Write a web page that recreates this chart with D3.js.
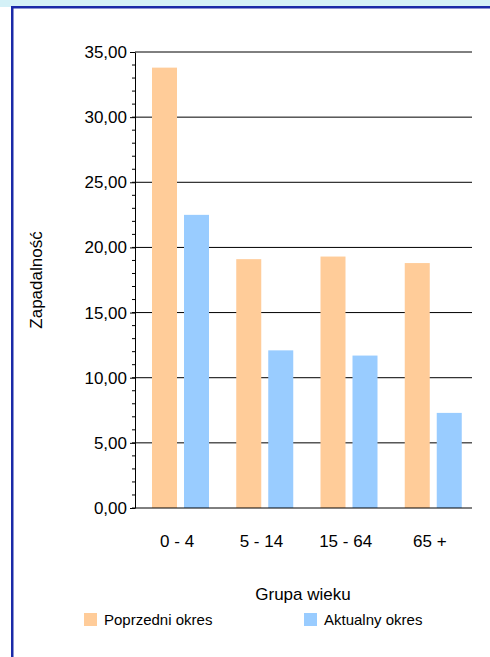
<!DOCTYPE html>
<html><head><meta charset="utf-8">
<script src="https://cdn.jsdelivr.net/npm/d3@7"></script>
<style>body{margin:0;background:#fff}text{font-family:"Liberation Sans",Arial,sans-serif}</style>
</head><body>
<svg width="490" height="657"></svg>
<script>
const categories = ["0 - 4", "5 - 14", "15 - 64", "65 +"];
const seriesNames = ["Poprzedni okres", "Aktualny okres"];
const previous = [33.8, 19.1, 19.3, 18.8];
const current = [22.5, 12.1, 11.7, 7.3];
const yTicks = [0, 5, 10, 15, 20, 25, 30, 35];
const colors = ["#FFCC99", "#99CCFF"];

var svg = d3.select("svg");
svg.append("rect").attr("x", 0).attr("y", 0).attr("width", 490).attr("height", 7).attr("fill", "#d4f1f7");
svg.append("rect").attr("x", 11).attr("y", 6).attr("width", 479).attr("height", 2.5).attr("fill", "#1a2aa8");
svg.append("rect").attr("x", 11).attr("y", 6).attr("width", 2.5).attr("height", 651).attr("fill", "#1a2aa8");

var x = d3.scaleBand().domain(categories).range([135, 472]);
var y = d3.scaleLinear().domain([0, 35]).range([508, 52]);
var fmt = d => d.toFixed(2).replace(".", ",");

var g = svg.append("g");
g.selectAll("line.grid").data(yTicks.slice(1)).enter().append("line")
  .attr("x1", 135).attr("x2", 472).attr("y1", d => y(d)).attr("y2", d => y(d))
  .attr("stroke", "#000").attr("stroke-width", 1);

var data = [previous, current];
var bw = 25;
data.forEach(function(vals, s) {
  g.selectAll("rect.s" + s).data(vals).enter().append("rect")
    .attr("x", (d, i) => x(categories[i]) + 17 + s * 32)
    .attr("width", bw)
    .attr("y", d => y(d)).attr("height", d => y(0) - y(d))
    .attr("fill", colors[s]);
});

var ya = svg.append("g").attr("transform", "translate(135,0)")
  .call(d3.axisLeft(y).tickValues(yTicks).tickFormat(fmt).tickSize(5).tickSizeOuter(0));
ya.selectAll("text").style("font-size", "17px").attr("fill", "#000").style("font-family", "Liberation Sans, Arial");
ya.select(".domain").attr("stroke", "#000");
svg.append("line").attr("x1", 135).attr("x2", 472).attr("y1", y(0)).attr("y2", y(0)).attr("stroke", "#000");
svg.selectAll("line.minor").data(d3.range(0, 35, 1)).enter().append("line")
  .attr("x1", 132).attr("x2", 135).attr("y1", d => y(d)).attr("y2", d => y(d)).attr("stroke", "#000");

svg.selectAll("text.cat").data(categories).enter().append("text")
  .attr("x", d => x(d) + x.bandwidth() / 2).attr("y", 547).attr("text-anchor", "middle")
  .style("font-size", "17px").text(d => d);

svg.append("text").attr("x", 303).attr("y", 600).attr("text-anchor", "middle").style("font-size", "17px").text("Grupa wieku");
svg.append("text").attr("transform", "translate(42,280) rotate(-90)").attr("text-anchor", "middle")
  .style("font-size", "17px").text("Zapadalność");

var leg = [{x: 84, t: seriesNames[0]}, {x: 304, t: seriesNames[1]}];
leg.forEach(function(l, i) {
  svg.append("rect").attr("x", l.x).attr("y", 613).attr("width", 13).attr("height", 13).attr("fill", colors[i]);
  svg.append("text").attr("x", l.x + 20).attr("y", 625).style("font-size", "15px").text(l.t);
});
</script>
</body></html>
